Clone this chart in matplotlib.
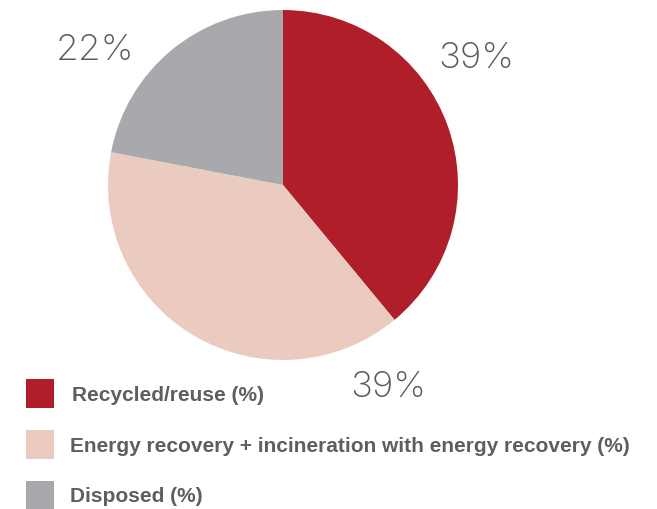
import matplotlib
matplotlib.use("Agg")
import matplotlib.pyplot as plt
from matplotlib.patches import Rectangle

# Waste treatment split
categories = ["Recycled/reuse (%)",
              "Energy recovery + incineration with energy recovery (%)",
              "Disposed (%)"]
shares = [39, 39, 22]
colors = ["#B01E2A", "#EBCBC0", "#A8A9AD"]

# label anchors: centre x and baseline y, in pie units (radius = 1)
label_pos = [(1.103, 0.669), (0.603, -1.211), (-1.077, 0.714)]

W, H = 657, 509
fig = plt.figure(figsize=(W / 100, H / 100), dpi=100)

cx, cy, r = 283, 185, 175
ax = fig.add_axes([(cx - r) / W, 1 - (cy + r) / H, 2 * r / W, 2 * r / H])
ax.pie(shares, colors=colors, startangle=90, counterclock=False,
       wedgeprops=dict(linewidth=0))
ax.set_xlim(-1, 1)
ax.set_ylim(-1, 1)
ax.set_aspect("equal")
ax.axis("off")

for val, (x, y) in zip(shares, label_pos):
    ax.text(x, y, f"{val}%", ha="center", va="baseline", fontsize=26.5,
            fontfamily="Inter", fontweight="light", color="#58595B",
            clip_on=False)

# legend drawn in pixel coordinates of the figure
leg = fig.add_axes([0, 0, 1, 1])
leg.set_xlim(0, W)
leg.set_ylim(H, 0)
leg.axis("off")
box_top = [379, 430, 481]
baselines = [401, 452, 502]
text_x = [72, 70, 70]
for cat, col, bt, bl, tx in zip(categories, colors, box_top, baselines, text_x):
    leg.add_patch(Rectangle((26, bt), 28, 29, facecolor=col, edgecolor="none"))
    leg.text(tx, bl, cat, ha="left", va="baseline", fontsize=15,
             fontfamily="Liberation Sans", fontweight="bold", color="#5E5E60")

fig.savefig("out.png", dpi=100)
